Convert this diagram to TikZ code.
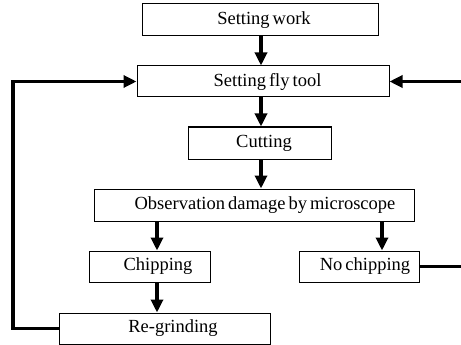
\documentclass[tikz,border=0pt]{standalone}
\usepackage{fontspec}
\setmainfont{Liberation Serif}[WordSpace=0.65]
\usetikzlibrary{arrows.meta}
\begin{document}
\begin{tikzpicture}[x=1pt,y=-1pt,
  box/.style={draw,line width=1pt,inner sep=0pt,font=\fontsize{18.5}{20}\selectfont},
  arr/.style={line width=3.2pt,-{Triangle[width=12pt,length=13pt]}},
  ln/.style={line width=3.2pt}]
\useasboundingbox (0,0) rectangle (461,345);
\node[box,minimum width=236pt,minimum height=32pt] (work) at (260,20) {\hspace*{8pt}Setting work};
\node[box,minimum width=252pt,minimum height=31pt] (fly) at (263,81.5) {\hspace*{9pt}Setting fly tool};
\node[box,minimum width=143pt,minimum height=32pt] (cut) at (259.5,143) {\hspace*{9pt}Cutting};
\node[box,minimum width=320pt,minimum height=32pt] (obs) at (254,205) {\hspace*{22pt}Observation damage by microscope};
\node[box,minimum width=121pt,minimum height=31pt] (chip) at (149.5,266.5) {\hspace*{17pt}Chipping};
\node[box,minimum width=120pt,minimum height=31pt] (nochip) at (359,266.5) {\hspace*{12pt}No chipping};
\node[box,minimum width=211pt,minimum height=31pt] (regrind) at (164.5,328.5) {\hspace*{17pt}Re-grinding};
\coordinate (cx) at (261,0);
\coordinate (lx) at (157,0);
\coordinate (rx) at (382,0);
\coordinate (left) at (13,0);
\coordinate (edge) at (461,0);
\draw[arr] (cx |- work.south) -- (cx |- fly.north);
\draw[arr] (cx |- fly.south) -- (cx |- cut.north);
\draw[arr] (cx |- cut.south) -- (cx |- obs.north);
\draw[arr] (lx |- obs.south) -- (lx |- chip.north);
\draw[arr] (rx |- obs.south) -- (rx |- nochip.north);
\draw[arr] (lx |- chip.south) -- (lx |- regrind.north);
\draw[arr] (regrind.west) -- (left |- regrind.west) -- (left |- fly.west) -- (fly.west);
\draw[ln] (nochip.east) -- (edge |- nochip.east);
\draw[arr] (edge |- fly.east) -- (fly.east);
\end{tikzpicture}
\end{document}
